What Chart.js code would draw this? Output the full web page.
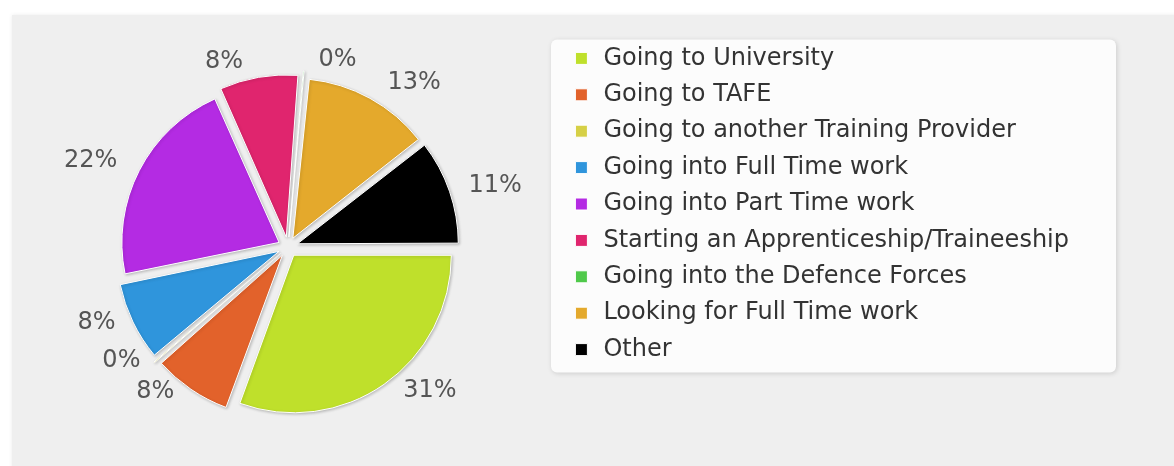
<!DOCTYPE html>
<html lang="en">
<head>
<meta charset="UTF-8">
<title>Student Destinations</title>
<script src="https://cdn.jsdelivr.net/npm/chart.js@4"></script>
<style>
  html, body { margin: 0; padding: 0; background: #ffffff; }
  #wrap { width: 1174px; height: 466px; position: relative; }
</style>
</head>
<body>
<div id="wrap"><canvas id="destChart"></canvas></div>
<script>
// destinations, in legend / slice order
const categories = [
    'Going to University',
    'Going to TAFE',
    'Going to another Training Provider',
    'Going into Full Time work',
    'Going into Part Time work',
    'Starting an Apprenticeship/Traineeship',
    'Going into the Defence Forces',
    'Looking for Full Time work',
    'Other'
];
// student counts (31, 8, 0, 8, 22, 8, 0, 13, 11 %)
const students = [81, 21, 1, 21, 57, 21, 1, 34, 28];
const sliceColours = ['#bfe02b', '#e2622b', '#d6d046', '#2f95dc', '#b42be3', '#e0256e', '#4fc94a', '#e4a92c', '#000000'];

const FONT = 'DejaVu Sans';
const legendSize = 24;
const rowGap = 12.4;

// measure the longest label so the legend sits where the reference has it
const mctx = document.createElement('canvas').getContext('2d');
mctx.font = legendSize + 'px "' + FONT + '"';
const longest = Math.max(...categories.map(c => mctx.measureText(c).width));
const legendLeft = 559;
const legendWidth = rowGap + 20 + legendSize / 2 + longest + 10;

// grey panel + white legend box behind everything
const backdrop = {
    id: 'backdrop',
    beforeDraw(chart) {
        const {ctx, width, height} = chart;
        ctx.save();
        ctx.fillStyle = '#ffffff';
        ctx.fillRect(0, 0, width, height);
        ctx.shadowColor = 'rgba(0,0,0,0.08)';
        ctx.shadowBlur = 4;
        ctx.fillStyle = '#efefef';
        ctx.fillRect(12, 15, width, height);
        ctx.shadowColor = 'transparent';

        const lg = chart.legend;
        const hb = lg.legendHitBoxes;
        if (hb && hb.length) {
            const last = hb[hb.length - 1];
            const maxRight = Math.max(...hb.map(h => h.left + h.width));
            const x0 = lg.left - 8, y0 = hb[0].top - 7;
            const x1 = maxRight + 47, y1 = last.top + last.height + 11;
            ctx.shadowColor = 'rgba(0,0,0,0.15)';
            ctx.shadowBlur = 5;
            ctx.shadowOffsetX = 1;
            ctx.shadowOffsetY = 1;
            ctx.fillStyle = '#fcfcfc';
            ctx.beginPath();
            ctx.roundRect(x0, y0, x1 - x0, y1 - y0, 6);
            ctx.fill();
        }
        ctx.restore();
    }
};

// soft shadow under the slices, then percentage labels outside them
const sliceLabels = {
    id: 'sliceLabels',
    beforeDatasetsDraw(chart) {
        const ctx = chart.ctx;
        ctx.save();
        ctx.shadowColor = 'rgba(0,0,0,0.22)';
        ctx.shadowBlur = 3;
        ctx.shadowOffsetX = 1;
        ctx.shadowOffsetY = 1;
    },
    afterDatasetsDraw(chart) {
        const ctx = chart.ctx;
        ctx.restore();
        const ds = chart.data.datasets[0];
        const total = ds.data.reduce((a, b) => a + b, 0);
        const meta = chart.getDatasetMeta(0);
        ctx.save();
        ctx.font = '24px "' + FONT + '"';
        ctx.fillStyle = '#555555';
        ctx.textAlign = 'center';
        ctx.textBaseline = 'middle';
        meta.data.forEach((arc, i) => {
            const p = arc.getProps(['x', 'y', 'startAngle', 'endAngle', 'outerRadius'], true);
            const mid = (p.startAngle + p.endAngle) / 2;
            const txt = Math.round(ds.data[i] / total * 100) + '%';
            const w = ctx.measureText(txt).width;
            const dx = Math.cos(mid), dy = Math.sin(mid);
            // anchor just outside the exploded rim, text set to the side of it
            const r = p.outerRadius + ds.offset / 4 + 8;
            const x = p.x + dx * r + Math.sign(dx) * (w / 2 + 15);
            const y = p.y + dy * r + Math.min(0, dy) * 13;
            ctx.fillText(txt, x, y);
        });
        ctx.restore();
    }
};

new Chart(document.getElementById('destChart'), {
    type: 'pie',
    data: {
        labels: categories,
        datasets: [{
            data: students,
            backgroundColor: sliceColours,
            borderColor: '#ffffff',
            borderWidth: 1,
            offset: 40,
            hoverOffset: 40
        }]
    },
    options: {
        responsive: true,
        maintainAspectRatio: false,
        animation: false,
        rotation: 90,
        radius: 157,
        layout: {
            padding: {left: 17, top: 34, bottom: 6, right: 1174 - legendLeft - legendWidth}
        },
        plugins: {
            tooltip: {enabled: false},
            legend: {
                position: 'right',
                align: 'start',
                labels: {
                    font: {family: FONT, size: legendSize},
                    color: '#333333',
                    usePointStyle: true,
                    pointStyle: 'rect',
                    boxWidth: 20,
                    boxHeight: 12,
                    padding: rowGap
                }
            }
        }
    },
    plugins: [backdrop, sliceLabels]
});
</script>
</body>
</html>
